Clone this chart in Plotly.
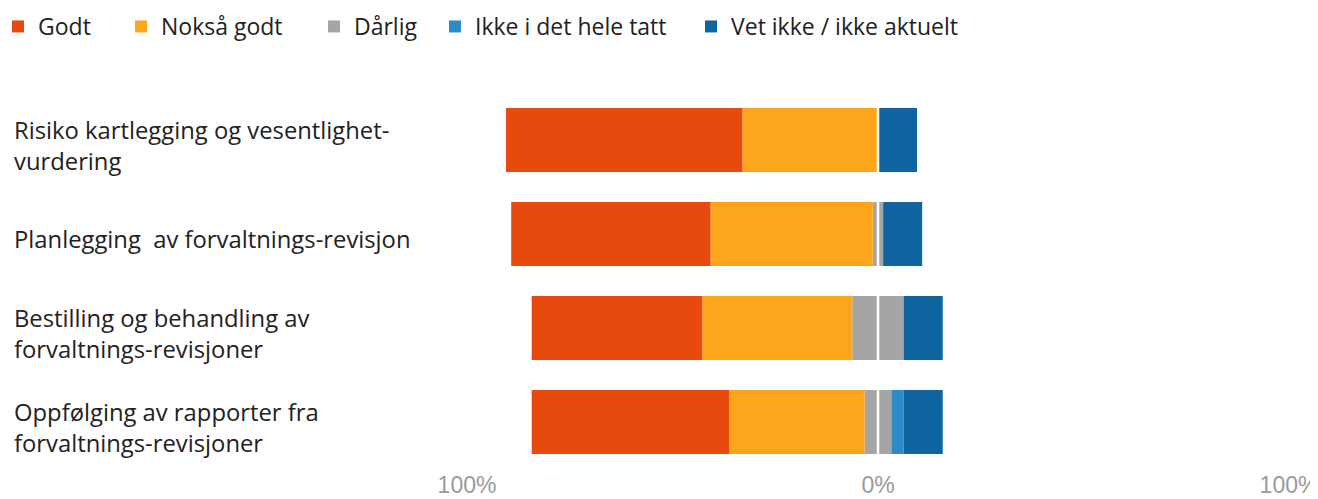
import plotly.graph_objects as go

categories = [
    "Risiko kartlegging og vesentlighet-<br>vurdering",
    "Planlegging  av forvaltnings-revisjon",
    "Bestilling og behandling av<br>forvaltnings-revisjoner",
    "Oppfølging av rapporter fra<br>forvaltnings-revisjoner",
]
godt = [57.5, 48.5, 41.5, 48.0]
noksa_godt = [33.0, 39.5, 36.5, 33.0]
darlig = [0.0, 2.5, 12.5, 6.5]
ikke_i_det_hele_tatt = [0.0, 0.0, 0.0, 3.0]
vet_ikke = [9.5, 9.5, 9.5, 9.5]

series_names = ["Godt", "Nokså godt", "Dårlig", "Ikke i det hele tatt", "Vet ikke / ikke aktuelt"]
colors = ["#E8490F", "#FDA61B", "#A5A5A5", "#2A8BC8", "#0F65A0"]
tick_vals = [-100, 0, 100]
tick_text = ["100%", "0%", "100%"]

# the page body adds an 8px margin, so the figure is sized/placed accordingly
W, H = 1310, 491
ML, MR, MT, MB = 459, 29, 85, 30
plot_w = W - ML - MR
plot_h = H - MT - MB
LABEL_FONT = dict(size=23.8, color="#222222", family="Open Sans")

ypos = list(range(len(categories)))
fig = go.Figure()

half_neg = [-v / 2 for v in darlig]
half_pos = [v / 2 for v in darlig]

fig.add_trace(go.Bar(y=ypos, x=half_neg, orientation="h", marker=dict(color=colors[2], line=dict(width=0)),
                     name=series_names[2], showlegend=False, legendrank=3))
fig.add_trace(go.Bar(y=ypos, x=[-v for v in noksa_godt], orientation="h", marker=dict(color=colors[1], line=dict(width=0)),
                     name=series_names[1], legendrank=2, legendwidth=148))
fig.add_trace(go.Bar(y=ypos, x=[-v for v in godt], orientation="h", marker=dict(color=colors[0], line=dict(width=0)),
                     name=series_names[0], legendrank=1, legendwidth=78))
fig.add_trace(go.Bar(y=ypos, x=half_pos, orientation="h", marker=dict(color=colors[2], line=dict(width=0)),
                     name=series_names[2], legendrank=3, legendwidth=76))
fig.add_trace(go.Bar(y=ypos, x=ikke_i_det_hele_tatt, orientation="h", marker=dict(color=colors[3], line=dict(width=0)),
                     name=series_names[3], legendrank=4, legendwidth=211))
fig.add_trace(go.Bar(y=ypos, x=vet_ikke, orientation="h", marker=dict(color=colors[4], line=dict(width=0)),
                     name=series_names[4], legendrank=5, legendwidth=235))

# thin white separator at the zero line
fig.add_vline(x=0, line=dict(color="white", width=2.5), layer="above")

# category labels, one annotation per line
for i, cat in enumerate(categories):
    lines = cat.split("<br>")
    n = len(lines)
    for j, ln in enumerate(lines):
        fig.add_annotation(
            x=(4 - ML) / plot_w, xref="paper", y=i, yref="y",
            text=ln, showarrow=False, xanchor="left", yanchor="middle",
            font=LABEL_FONT,
            yshift=-5 - (j - (n - 1) / 2) * 31,
        )

fig.update_layout(
    width=W, height=H,
    margin=dict(l=ML, r=MR, t=MT, b=MB, autoexpand=False),
    barmode="relative",
    bargap=0.32,
    plot_bgcolor="white", paper_bgcolor="white",
    font=dict(family="Open Sans", color="#222222"),
    xaxis=dict(range=[-100, 100], tickvals=tick_vals, ticktext=tick_text, showgrid=False, zeroline=False,
               showline=False, ticks="", ticklabeloverflow="allow",
               tickfont=dict(size=23, color="#9A9A9A", family="Liberation Sans Narrow, Arial Narrow, sans-serif")),
    yaxis=dict(range=[len(categories) - 0.5, -0.5], showticklabels=False, showgrid=False, zeroline=False, showline=False),
    legend=dict(orientation="h", xref="paper", yref="paper",
                x=(-10 - ML) / plot_w, y=1 + (MT + 3) / plot_h, xanchor="left", yanchor="top",
                font=dict(size=23, color="#222222", family="Open Sans"), traceorder="normal", itemwidth=30,
                bgcolor="rgba(0,0,0,0)"),
)

fig.write_html("out.html")
